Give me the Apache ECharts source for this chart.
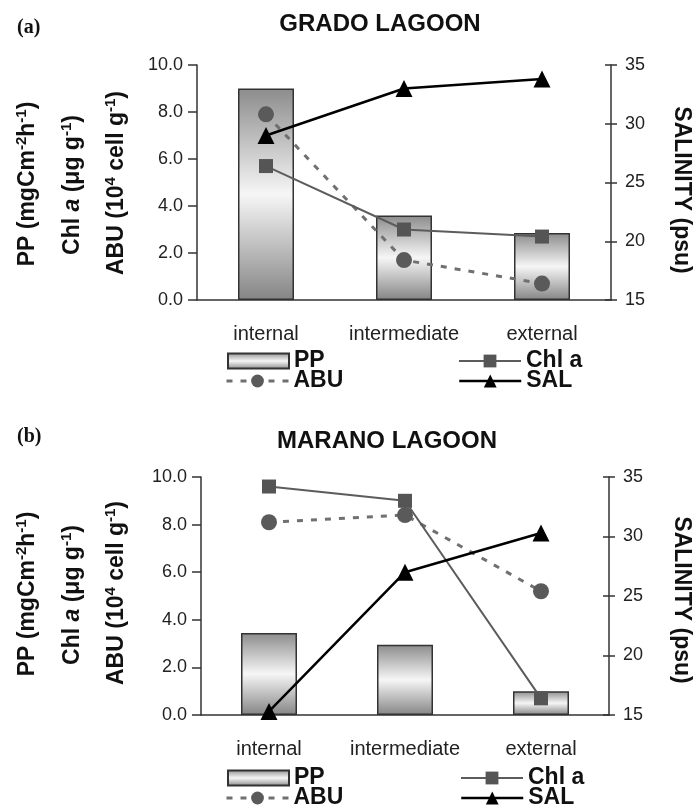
<!DOCTYPE html>
<html>
<head>
<meta charset="utf-8">
<script src="https://cdn.jsdelivr.net/npm/echarts@6/dist/echarts.min.js"></script>
<style>html,body{margin:0;padding:0;background:#fff;}#c{width:697px;height:811px;}</style>
</head>
<body>
<div id="c"></div>
<script>
// ---- data ----
const categories = ['internal', 'intermediate', 'external'];
const leftTicks = [0, 2, 4, 6, 8, 10];
const rightTicks = [15, 20, 25, 30, 35];

const gradoPP  = [9.0, 3.6, 2.85];
const gradoChl = [5.7, 3.0, 2.7];
const gradoABU = [7.9, 1.7, 0.7];
const gradoSAL = [29.0, 33.0, 33.8];

const maranoPP  = [3.45, 2.95, 1.0];
const maranoChl = [9.6, 9.0, 0.7];
const maranoABU = [8.1, 8.4, 5.2];
const maranoSAL = [15.3, 27.0, 30.3];

const FONT = 'Liberation Sans, Arial, Helvetica, sans-serif';
const AX = '#333';

const chart = echarts.init(document.getElementById('c'), null, {renderer: 'canvas'});

const barGrad = {
  type: 'linear', x: 0, y: 0, x2: 0, y2: 1,
  colorStops: [
    {offset: 0, color: '#8c8c8c'},
    {offset: 0.5, color: '#f6f6f6'},
    {offset: 1, color: '#858585'}
  ]
};

function xAx(g) {
  return {
    type: 'category', gridIndex: g, data: categories,
    axisLine: {lineStyle: {color: AX, width: 1.5}},
    axisTick: {length: 7, lineStyle: {color: AX, width: 1.5}},
    axisLabel: {interval: 0, hideOverlap: false, fontSize: 20, color: '#222', margin: 24, fontFamily: FONT},
    splitLine: {show: false}
  };
}
function yLeft(g) {
  return {
    type: 'value', gridIndex: g, position: 'left',
    min: leftTicks[0], max: leftTicks[leftTicks.length - 1], interval: leftTicks[1] - leftTicks[0],
    axisLine: {show: true, lineStyle: {color: AX, width: 1.5}},
    axisTick: {show: true, length: 9, lineStyle: {color: AX, width: 1.5}},
    axisLabel: {fontSize: 18, color: '#222', margin: 14, fontFamily: FONT, formatter: v => v.toFixed(1)},
    splitLine: {show: false}
  };
}
function yRight(g) {
  return {
    type: 'value', gridIndex: g, position: 'right',
    min: rightTicks[0], max: rightTicks[rightTicks.length - 1], interval: rightTicks[1] - rightTicks[0],
    axisLine: {show: true, lineStyle: {color: AX, width: 1.5}},
    axisTick: {show: true, length: 6, lineStyle: {color: AX, width: 1.5}},
    axisLabel: {fontSize: 18, color: '#222', margin: 14, fontFamily: FONT},
    splitLine: {show: false}
  };
}
function yRightInner(g) {
  return {
    type: 'value', gridIndex: g, position: 'right',
    min: rightTicks[0], max: rightTicks[rightTicks.length - 1], interval: rightTicks[1] - rightTicks[0],
    axisLine: {show: false},
    axisTick: {show: true, inside: true, length: 6, lineStyle: {color: AX, width: 1.5}},
    axisLabel: {show: false},
    splitLine: {show: false}
  };
}

function seriesFor(g, pp, chl, abu, sal) {
  const xi = g, yl = g * 3, yr = g * 3 + 1;
  return [
    {type: 'bar', name: 'PP', xAxisIndex: xi, yAxisIndex: yl, data: pp, barWidth: 56,
     itemStyle: {color: barGrad, borderColor: '#333', borderWidth: 1.5}, z: 1},
    {type: 'line', name: 'ABU', xAxisIndex: xi, yAxisIndex: yl, data: abu,
     symbol: 'circle', symbolSize: 16, showAllSymbol: true,
     lineStyle: {color: '#707070', width: 3, type: [6, 8]}, itemStyle: {color: '#5a5a5a'}, z: 3},
    {type: 'line', name: 'Chl a', xAxisIndex: xi, yAxisIndex: yl, data: chl,
     symbol: 'rect', symbolSize: 14, showAllSymbol: true,
     lineStyle: {color: '#5c5c5c', width: 2}, itemStyle: {color: '#555'}, z: 4},
    {type: 'line', name: 'SAL', xAxisIndex: xi, yAxisIndex: yr, data: sal,
     symbol: 'triangle', symbolSize: 17, showAllSymbol: true,
     lineStyle: {color: '#000', width: 2.5}, itemStyle: {color: '#000'}, z: 5}
  ];
}

function leg(name, left, cy, extra) {
  return Object.assign({
    data: [name], left: left, top: cy - 12, padding: 0, selectedMode: false,
    itemWidth: 62, itemHeight: 16,
    textStyle: {fontSize: 23, fontWeight: 'bold', color: '#111', fontFamily: FONT, lineHeight: 24}
  }, extra || {});
}
function legendsAt(y1, y2, lx, rx) {
  return [
    leg({name: 'PP', icon: 'rect'}, lx + 2, y1, {itemWidth: 61, itemHeight: 15}),
    leg('ABU', lx, y2, {lineStyle: {type: [6, 8], width: 3, color: '#707070'}}),
    leg('Chl a', rx, y1, {lineStyle: {width: 2, color: '#5c5c5c'}}),
    leg('SAL', rx, y2, {lineStyle: {width: 2.5, color: '#000'}})
  ];
}

const rich = {
  b: {fontSize: 23, fontWeight: 'bold', fontFamily: FONT, fill: '#111', color: '#111', lineHeight: 28},
  i: {fontSize: 23, fontWeight: 'bold', fontStyle: 'italic', fontFamily: FONT, fill: '#111', color: '#111', lineHeight: 28},
  s: {fontSize: 15, fontWeight: 'bold', fontFamily: FONT, fill: '#111', color: '#111', verticalAlign: 'top'}
};
function vtext(x, y, text, rot) {
  return {
    type: 'text', x: x, y: y, rotation: rot, silent: true,
    style: {text: text, rich: rich, align: 'center', verticalAlign: 'middle',
            font: 'bold 23px ' + FONT, fill: '#111'}
  };
}
function plain(x, y, text, font, align) {
  return {
    type: 'text', x: x, y: y, silent: true,
    style: {text: text, font: font, fill: '#111', align: align || 'center', verticalAlign: 'middle'}
  };
}
function yTitles(dy) {
  const R = Math.PI / 2;
  return [
    vtext(28, 184 + dy, '{b|PP (mgCm}{s|-2}{b|h}{s|-1}{b|)}', R),
    vtext(73, 185 + dy, '{b|Chl }{i|a}{b| (μg g}{s|-1}{b|)}', R),
    vtext(117, 183 + dy, '{b|ABU (10}{s|4}{b| cell g}{s|-1}{b|)}', R),
    vtext(681, 190 + dy, '{b|SALINITY (psu)}', -R)
  ];
}

const option = {
  animation: false,
  backgroundColor: '#ffffff',
  textStyle: {fontFamily: FONT},
  grid: [
    {left: 197, top: 65, width: 414, height: 235, containLabel: false, outerBoundsMode: 'none'},
    {left: 201, top: 477, width: 408, height: 238, containLabel: false, outerBoundsMode: 'none'}
  ],
  xAxis: [xAx(0), xAx(1)],
  yAxis: [yLeft(0), yRight(0), yRightInner(0), yLeft(1), yRight(1), yRightInner(1)],
  legend: legendsAt(361, 381, 225, 458).concat(legendsAt(778, 798, 225, 460)),
  series: seriesFor(0, gradoPP, gradoChl, gradoABU, gradoSAL)
    .concat(seriesFor(1, maranoPP, maranoChl, maranoABU, maranoSAL)),
  graphic: [
    plain(17, 28, '(a)', 'bold 20px Liberation Serif, Times New Roman, serif', 'left'),
    plain(380, 24, 'GRADO LAGOON', 'bold 24px ' + FONT),
    plain(17, 437, '(b)', 'bold 20px Liberation Serif, Times New Roman, serif', 'left'),
    plain(387, 441, 'MARANO LAGOON', 'bold 24px ' + FONT)
  ].concat(yTitles(0)).concat(yTitles(410))
};

chart.setOption(option);
</script>
</body>
</html>
